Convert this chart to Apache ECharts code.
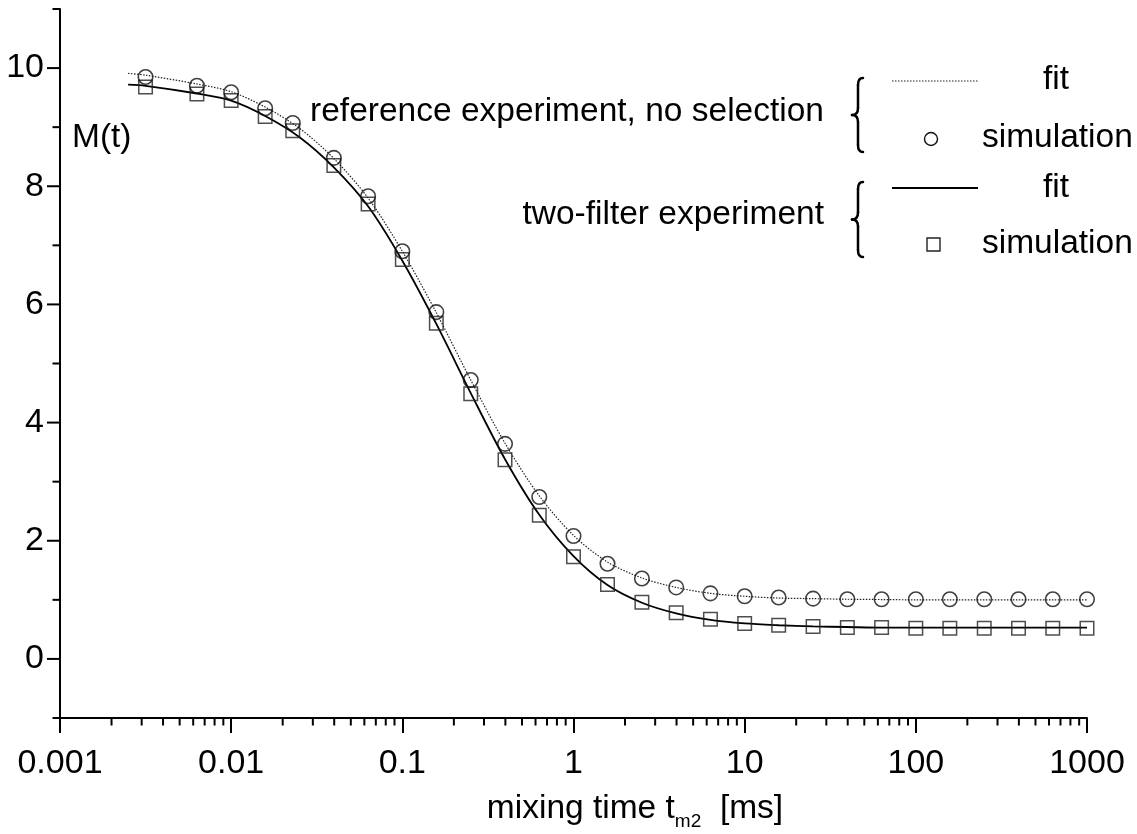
<!DOCTYPE html>
<html>
<head>
<meta charset="utf-8">
<script src="https://cdn.jsdelivr.net/npm/echarts/dist/echarts.min.js"></script>
<style>
html,body{margin:0;padding:0;background:#fff;}
#chart{width:1137px;height:834px;}
</style>
</head>
<body>
<div id="chart"></div>
<script>
// ---- data ----
var simX = [0.00316, 0.00631, 0.01, 0.0158, 0.0229, 0.0398, 0.0631, 0.1, 0.158, 0.251, 0.398, 0.631, 1, 1.58, 2.51, 3.98, 6.31, 10, 15.8, 25.1, 39.8, 63.1, 100, 158, 251, 398, 631, 1000];
var simRef = [9.85, 9.70, 9.59, 9.32, 9.07, 8.48, 7.83, 6.90, 5.87, 4.72, 3.64, 2.74, 2.08, 1.61, 1.36, 1.21, 1.11, 1.06, 1.04, 1.02, 1.01, 1.01, 1.01, 1.01, 1.01, 1.01, 1.01, 1.01];
var simTwo = [9.68, 9.56, 9.45, 9.18, 8.94, 8.35, 7.70, 6.76, 5.68, 4.49, 3.37, 2.43, 1.73, 1.26, 0.96, 0.78, 0.67, 0.60, 0.57, 0.55, 0.53, 0.53, 0.52, 0.52, 0.52, 0.52, 0.52, 0.52];

var fitX = [0.0025, 0.00316, 0.00631, 0.01, 0.0158, 0.0251, 0.0398, 0.0631, 0.1, 0.158, 0.251, 0.398, 0.631, 1, 1.58, 2.51, 3.98, 6.31, 10, 15.8, 25.1, 39.8, 63.1, 100, 158, 251, 398, 631, 1000];
var fitRef = [9.91, 9.88, 9.73, 9.60, 9.34, 8.98, 8.47, 7.80, 6.90, 5.86, 4.72, 3.65, 2.76, 2.09, 1.64, 1.37, 1.21, 1.11, 1.06, 1.03, 1.02, 1.01, 1.005, 1.0, 1.0, 1.0, 1.0, 1.0, 1.0];
var fitTwo = [9.72, 9.70, 9.57, 9.45, 9.19, 8.83, 8.32, 7.66, 6.74, 5.67, 4.50, 3.38, 2.44, 1.74, 1.25, 0.95, 0.77, 0.66, 0.60, 0.57, 0.55, 0.54, 0.53, 0.53, 0.53, 0.53, 0.53, 0.53, 0.53];

var xTickLabels = ['0.001', '0.01', '0.1', '1', '10', '100', '1000'];
var decadeTicks = [0.001, 0.01, 0.1, 1, 10, 100];
var minorMultipliers = [2, 3, 4, 5, 6, 7, 8, 9];
var yTickValues = [-1, 0, 1, 2, 3, 4, 5, 6, 7, 8, 9, 10, 11];
var yLabelValues = [0, 2, 4, 6, 8, 10];

var legendTexts = ['reference experiment, no selection', 'two-filter experiment'];
var xAxisTitle = ['mixing time t', 'm2', '  [ms]'];
var yAxisTitle = 'M(t)';

// ---- build ----
var FONT = '"Liberation Sans", Arial, Helvetica, sans-serif';
var FS = 33.5;
function zip(xs, ys) { return xs.map(function (x, i) { return [x, ys[i]]; }); }

var xMinorData = [];
decadeTicks.forEach(function (d) {
  minorMultipliers.forEach(function (m) { xMinorData.push([d * m, -1]); });
});
var yTickData = yTickValues.map(function (v) { return [0.001, v, (v % 2 === 0) ? 1 : 0]; });

function brace(x0, x1, y0, y1) {
  var xm = (x0 + x1) / 2 + 0.5, ym = (y0 + y1) / 2, r = 7;
  var st = { stroke: '#000', lineWidth: 2.5, fill: null, lineCap: 'round' };
  return {
    type: 'group', silent: true, children: [
      { type: 'bezierCurve', shape: { x1: x1, y1: y0, x2: xm, y2: y0 + r, cpx1: xm, cpy1: y0 }, style: st },
      { type: 'line', shape: { x1: xm, y1: y0 + r, x2: xm, y2: ym - r }, style: st },
      { type: 'bezierCurve', shape: { x1: xm, y1: ym - r, x2: x0, y2: ym, cpx1: xm, cpy1: ym }, style: st },
      { type: 'bezierCurve', shape: { x1: x0, y1: ym, x2: xm, y2: ym + r, cpx1: xm, cpy1: ym }, style: st },
      { type: 'line', shape: { x1: xm, y1: ym + r, x2: xm, y2: y1 - r }, style: st },
      { type: 'bezierCurve', shape: { x1: xm, y1: y1 - r, x2: x1, y2: y1, cpx1: xm, cpy1: y1 }, style: st }
    ]
  };
}
function txt(x, y, s, align) {
  return { type: 'text', x: x, y: y, silent: true,
    style: { text: s, fill: '#000', font: FS + 'px ' + FONT, align: align, verticalAlign: 'middle' } };
}

var chart = echarts.init(document.getElementById('chart'), null, { renderer: 'canvas' });
var option = {
  animation: false,
  backgroundColor: '#fff',
  textStyle: { fontFamily: FONT },
  grid: { left: 60, right: 50, top: 9, bottom: 116, containLabel: false, outerBoundsMode: 'none' },
  xAxis: {
    type: 'log', logBase: 10, min: 0.001, max: 1000, splitNumber: 6,
    axisLine: { onZero: false, lineStyle: { color: '#000', width: 2 } },
    axisTick: { show: true, length: 15, inside: false, lineStyle: { color: '#000', width: 2 } },
    minorTick: { show: false },
    splitLine: { show: false },
    axisLabel: {
      color: '#000', fontSize: 34, fontFamily: FONT, margin: 29,
      formatter: function (v) { var i = Math.round(Math.log10(v)) + 3; return xTickLabels[i] || ''; }
    }
  },
  yAxis: {
    type: 'value', min: -1, max: 11, interval: 1,
    axisLine: { onZero: false, lineStyle: { color: '#000', width: 2 } },
    axisTick: { show: false },
    splitLine: { show: false },
    axisLabel: {
      color: '#000', fontSize: 34, fontFamily: FONT, margin: 16,
      formatter: function (v) { return yLabelValues.indexOf(v) >= 0 ? String(v) : ''; }
    }
  },
  series: [
    {
      type: 'line', name: 'fit ref', data: zip(fitX, fitRef), smooth: 0.3, showSymbol: false, silent: true,
      lineStyle: { color: '#222', width: 1.2, type: [1.5, 1.5] }, z: 2
    },
    {
      type: 'line', name: 'fit two', data: zip(fitX, fitTwo), smooth: 0.3, showSymbol: false, silent: true,
      lineStyle: { color: '#000', width: 1.8, type: 'solid' }, z: 2
    },
    {
      type: 'scatter', name: 'sim two', data: zip(simX, simTwo), symbol: 'rect', symbolSize: 13.5, silent: true,
      itemStyle: { color: 'transparent', borderColor: '#222', borderWidth: 1.5 }, z: 3
    },
    {
      type: 'scatter', name: 'sim ref', data: zip(simX, simRef), symbol: 'circle', symbolSize: 14.5, silent: true,
      itemStyle: { color: 'transparent', borderColor: '#111', borderWidth: 1.6 }, z: 4
    },
    {
      type: 'custom', name: 'xminor', data: xMinorData, clip: false, silent: true, z: 5,
      renderItem: function (params, api) {
        var p = api.coord([api.value(0), api.value(1)]);
        return { type: 'line', shape: { x1: p[0], y1: p[1], x2: p[0], y2: p[1] + 7.5 }, style: { stroke: '#000', lineWidth: 2 } };
      }
    },
    {
      type: 'custom', name: 'yticks', data: yTickData, clip: false, silent: true, z: 5,
      renderItem: function (params, api) {
        var p = api.coord([api.value(0), api.value(1)]);
        var len = api.value(2) ? 13 : 7.5;
        return { type: 'line', shape: { x1: p[0], y1: p[1], x2: p[0] - len, y2: p[1] }, style: { stroke: '#000', lineWidth: 2 } };
      }
    }
  ],
  graphic: [
    txt(72, 138, yAxisTitle, 'left'),
    txt(824, 112, legendTexts[0], 'right'),
    txt(824, 215, legendTexts[1], 'right'),
    brace(852, 863, 78, 152),
    brace(852, 863, 182, 257),
    { type: 'line', silent: true, shape: { x1: 892, y1: 81, x2: 978, y2: 81 }, style: { stroke: '#222', lineWidth: 1.2, lineDash: [1.5, 1.5] } },
    { type: 'line', silent: true, shape: { x1: 892, y1: 188, x2: 978, y2: 188 }, style: { stroke: '#000', lineWidth: 1.8 } },
    txt(1056, 80, 'fit', 'center'),
    txt(1056, 188, 'fit', 'center'),
    { type: 'circle', silent: true, shape: { cx: 931, cy: 139, r: 6.5 }, style: { fill: 'transparent', stroke: '#111', lineWidth: 1.4 } },
    { type: 'rect', silent: true, shape: { x: 927, y: 238, width: 13, height: 13 }, style: { fill: 'transparent', stroke: '#222', lineWidth: 1.4 } },
    txt(982, 138, 'simulation', 'left'),
    txt(982, 244, 'simulation', 'left'),
    {
      type: 'text', x: 635, y: 809, silent: true,
      style: {
        text: '{a|' + xAxisTitle[0] + '}{s|' + xAxisTitle[1] + '}{a|' + xAxisTitle[2] + '}',
        align: 'center', verticalAlign: 'middle', fill: '#000',
        rich: {
          a: { fontSize: FS, fontFamily: FONT, lineHeight: 44, fill: '#000', color: '#000', verticalAlign: 'middle' },
          s: { fontSize: 19, fontFamily: FONT, lineHeight: 19, fill: '#000', color: '#000', verticalAlign: 'bottom' }
        }
      }
    }
  ]
};
chart.setOption(option);
</script>
</body>
</html>
